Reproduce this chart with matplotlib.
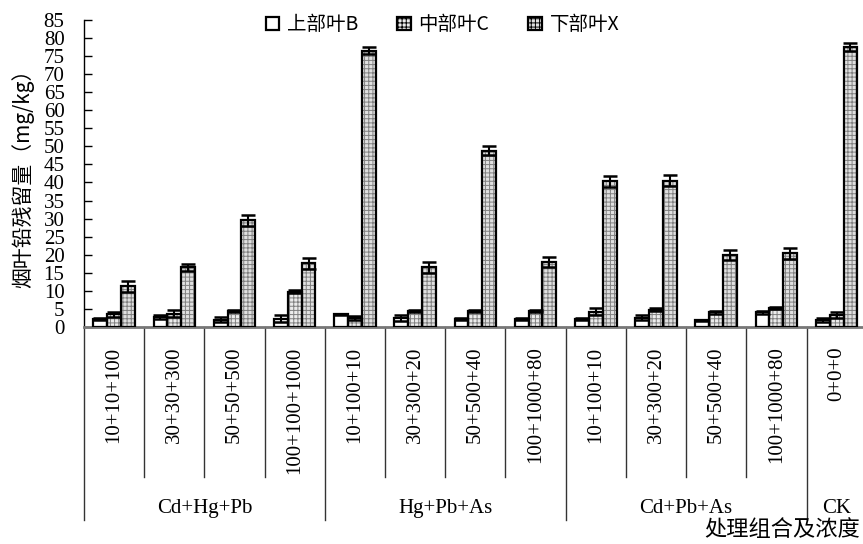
import numpy as np
import matplotlib
matplotlib.use("Agg")
import matplotlib.pyplot as plt
import matplotlib.transforms as mtransforms
from matplotlib.patches import Patch

# ── data ─────────────────────────────────────────────────
concentrations = ["10+10+100", "30+30+300", "50+50+500", "100+100+1000",
                  "10+100+10", "30+300+20", "50+500+40", "100+1000+80",
                  "10+100+10", "30+300+20", "50+500+40", "100+1000+80",
                  "0+0+0"]
groups = ["Cd+Hg+Pb", "Hg+Pb+As", "Cd+Pb+As", "CK"]
group_sizes = [4, 4, 4, 1]
series_names = ["上部叶B", "中部叶C", "下部叶X"]

upper_b = [2.2, 2.8, 2.0, 2.3, 3.5, 2.5, 2.2, 2.2, 2.2, 2.6, 1.8, 4.0, 2.0]
upper_b_err = [0.3, 0.5, 0.7, 1.0, 0.2, 0.8, 0.3, 0.3, 0.3, 0.6, 0.2, 0.3, 0.6]
middle_c = [3.5, 3.7, 4.3, 9.8, 2.5, 4.3, 4.3, 4.3, 4.2, 4.8, 4.0, 5.3, 3.4]
middle_c_err = [0.7, 0.9, 0.3, 0.3, 0.5, 0.3, 0.3, 0.3, 1.0, 0.4, 0.3, 0.3, 0.8]
lower_x = [11.3, 16.5, 29.5, 17.6, 76.5, 16.5, 48.8, 18.0, 40.3, 40.5, 19.9, 20.4, 77.5]
lower_x_err = [1.5, 1.0, 1.5, 1.5, 1.0, 1.5, 1.2, 1.5, 1.5, 1.5, 1.5, 1.5, 1.0]

SERIF = ["Liberation Serif", "Noto Sans CJK SC"]
CJK = ["Noto Sans CJK SC", "DejaVu Sans"]
plt.rcParams["font.family"] = SERIF
plt.rcParams["hatch.linewidth"] = 0.7

fig = plt.figure(figsize=(8.63, 5.44), dpi=100)
ax = fig.add_axes([0.0973, 0.399, 0.907, 0.5643])

x = np.arange(len(concentrations))
w = 0.23
styles = [("white", None), ("#ececec", "++++"), ("#e0e0e0", "++++")]
handles = []
for i, (vals, errs) in enumerate([(upper_b, upper_b_err), (middle_c, middle_c_err),
                                  (lower_x, lower_x_err)]):
    pos = x + (i - 1) * w
    face, hatch = styles[i]
    ax.bar(pos, vals, w, color=face, hatch=hatch, edgecolor="#808080", linewidth=0, zorder=2)
    ax.bar(pos, vals, w, fill=False, edgecolor="black", linewidth=1.6, zorder=3)
    ax.errorbar(pos, vals, yerr=errs, fmt="none", ecolor="black", elinewidth=1.5,
                capsize=5, capthick=1.8, zorder=4)
    handles.append(Patch(facecolor=face, hatch=hatch, edgecolor="black", linewidth=1.6))

ax.set_xlim(-0.5, len(concentrations) - 0.5)
ax.set_ylim(0, 85)
ax.set_yticks(np.arange(0, 86, 5))
ax.tick_params(axis="y", direction="in", length=6, width=1, pad=14, labelsize=15)
ax.set_xticks(x, concentrations, rotation=90, fontsize=15)
ax.tick_params(axis="x", length=0, pad=14)
for side in ["top", "right"]:
    ax.spines[side].set_visible(False)
ax.spines["bottom"].set_color("#777777")
ax.spines["bottom"].set_linewidth(2)
ax.spines["left"].set_linewidth(1)

# category separators below the axis
trans = mtransforms.blended_transform_factory(ax.transData, ax.transAxes)
edges = np.cumsum(group_sizes)[:-1] - 0.5
for b in np.arange(-0.5, len(concentrations) - 0.5):
    bottom = -0.629 if (b == -0.5 or b in edges) else -0.489
    ax.plot([b, b], [0, bottom], color="#333333", lw=1, transform=trans, clip_on=False)

start = 0
for g, n in zip(groups, group_sizes):
    ax.text(start + (n - 1) / 2, -0.59, g, transform=trans, ha="center", va="center",
            fontsize=15)
    start += n

ax.set_ylabel("烟叶铅残留量（mg/kg）", family=CJK, fontsize=15)
ax.yaxis.set_label_coords(-0.064, 0.5)
fig.text(0.997, 0.026, "处理组合及浓度", family=CJK, fontsize=16, ha="right", va="center")

ax.legend(handles, series_names, loc="center", bbox_to_anchor=(0.458, 0.984), ncol=3,
          frameon=False, handlelength=0.7, handleheight=0.7, handletextpad=0.4,
          columnspacing=2.0, prop={"family": CJK, "size": 14})

fig.savefig("out.png", dpi=100)
